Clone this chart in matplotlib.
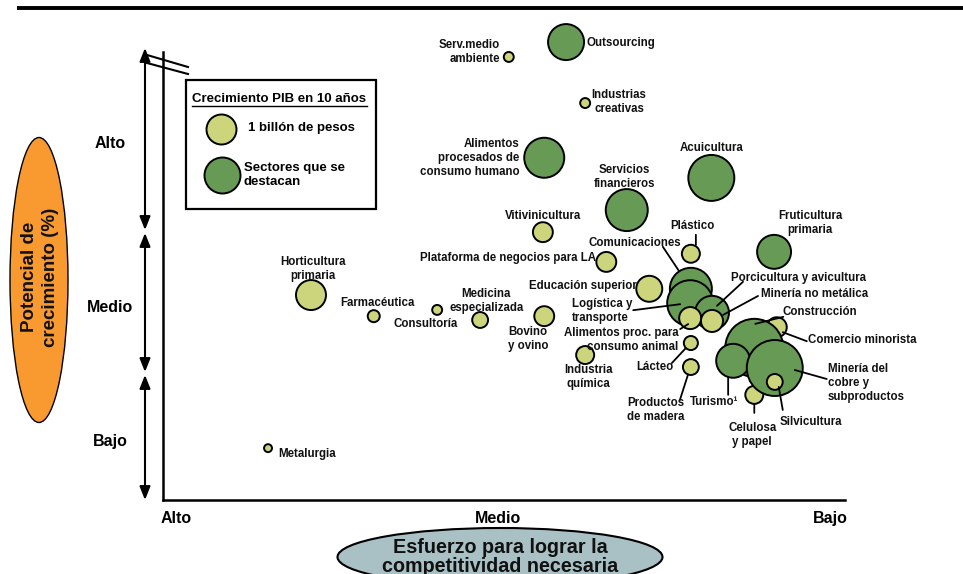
import matplotlib
matplotlib.use('Agg')
import matplotlib.pyplot as plt
from matplotlib.patches import Ellipse, Rectangle
from matplotlib.transforms import offset_copy

plt.rcParams['font.family'] = ['Liberation Sans', 'DejaVu Sans']

# ---------------- data ----------------
sectors = [
    "Metalurgia", "Serv.medio\nambiente", "Outsourcing", "Industrias\ncreativas",
    "Alimentos\nprocesados de\nconsumo humano", "Acuicultura", "Servicios\nfinancieros",
    "Vitivinicultura", "Plástico", "Fruticultura\nprimaria", "Plataforma de negocios para LA",
    "Horticultura\nprimaria", "Farmacéutica", "Consultoría", "Medicina\nespecializada",
    "Bovino\ny ovino", "Educación superior", "Industria\nquímica", "Comunicaciones",
    "Logística y\ntransporte", "Porcicultura y avicultura", "Alimentos proc. para\nconsumo animal",
    "Minería no metálica", "Lácteo", "Productos\nde madera", "Comercio minorista",
    "Celulosa\ny papel", "Construcción", "Turismo¹", "Minería del\ncobre y\nsubproductos",
    "Silvicultura",
]
# esfuerzo para lograr competitividad (0 = alto, 100 = bajo)
effort = [15.4, 50.7, 59.1, 61.9, 55.9, 80.4, 68.0, 55.7, 77.4, 89.6, 65.0,
          21.7, 30.9, 40.2, 46.5, 55.9, 71.3, 61.9, 77.4, 77.3, 80.5, 77.3,
          80.5, 77.4, 77.4, 90.0, 86.7, 86.7, 83.6, 89.7, 89.7]
# potencial de crecimiento (0 = bajo, 100 = alto)
potential = [10.8, 92.3, 95.4, 82.7, 71.3, 67.1, 60.4, 55.8, 51.3, 51.7, 49.6,
             42.7, 38.3, 39.6, 37.5, 38.3, 44.0, 30.2, 44.0, 41.0, 39.0, 37.9,
             37.3, 32.7, 27.7, 36.0, 21.9, 31.7, 29.0, 27.5, 24.6]
# crecimiento PIB en 10 años (billones de pesos)
pib_growth = [0.07, 0.11, 1.44, 0.11, 1.78, 2.35, 1.96, 0.44, 0.36, 1.28, 0.44,
              1.00, 0.16, 0.11, 0.28, 0.44, 0.75, 0.36, 1.96, 2.35, 1.28, 0.54,
              0.54, 0.22, 0.28, 0.44, 0.36, 3.74, 1.28, 3.48, 0.28]
highlighted = [False, False, True, False, True, True, True, False, False, True, False,
               False, False, False, False, False, False, False, True, True, True, False,
               False, False, False, False, False, True, True, True, False]

effort_levels = ["Alto", "Medio", "Bajo"]
effort_level_pos = [1.9, 49.1, 97.9]
potential_levels = ["Alto", "Medio", "Bajo"]
potential_level_pos = [74.6, 40.4, 12.5]

# ---------------- layout (pixel offsets from bubble centre; y down) ----------------
label_layout = {
    "Metalurgia": (10, 6, 'left', None),
    "Serv.medio\nambiente": (-9, -5, 'right', None),
    "Outsourcing": (20, 1, 'left', None),
    "Industrias\ncreativas": (34, -1, 'center', None),
    "Alimentos\nprocesados de\nconsumo humano": (-25, 0, 'right', None),
    "Acuicultura": (0, -30, 'center', None),
    "Servicios\nfinancieros": (-2, -33, 'center', None),
    "Vitivinicultura": (0, -16, 'center', None),
    "Plástico": (2, -28, 'center', ((5, -19), (5, -9))),
    "Fruticultura\nprimaria": (36, -29, 'center', None),
    "Plataforma de negocios para LA": (-10, -4, 'right', None),
    "Horticultura\nprimaria": (2, -26, 'center', None),
    "Farmacéutica": (4, -13, 'center', None),
    "Consultoría": (-12, 14, 'center', None),
    "Medicina\nespecializada": (6, -19, 'center', None),
    "Bovino\ny ovino": (-36, 23, 'left', None),
    "Educación superior": (-13, -3, 'right', None),
    "Industria\nquímica": (3, 22, 'center', None),
    "Comunicaciones": (-56, -46, 'center', ((-28, -42), (-12, -18))),
    "Logística y\ntransporte": (-118, 8, 'left', ((-57, 7), (-10, 1))),
    "Porcicultura y avicultura": (86, -35, 'center', ((31, -31), (5, -7))),
    "Alimentos proc. para\nconsumo animal": (-12, 22, 'right', ((-10, 11), (-2, 6))),
    "Minería no metálica": (103, -27, 'center', ((46, -25), (11, -6))),
    "Lácteo": (-36, 24, 'center', ((-19, 20), (-5, 5))),
    "Productos\nde madera": (-35, 43, 'center', ((-11, 33), (-3, 8))),
    "Comercio minorista": (85, 13, 'center', ((6, 5), (30, 14))),
    "Celulosa\ny papel": (-2, 40, 'center', ((0, 9), (0, 18))),
    "Construcción": (66, -36, 'center', ((1, -24), (29, -31))),
    "Turismo¹": (-19, 41, 'center', ((-5, 17), (-5, 34))),
    "Minería del\ncobre y\nsubproductos": (53, 15, 'left', ((20, 2), (52, 11))),
    "Silvicultura": (36, 40, 'center', ((4, 5), (8, 28))),
}

LIGHT = '#CDD57C'
DARK = '#679B55'
ORANGE = '#F99A30'
GREYBLUE = '#A9C1C5'
SIZE_PER_UNIT = 466.6  # marker area (pt^2) for 1 billón

W, H = 963, 574
fig = plt.figure(figsize=(W / 100, H / 100), dpi=100)

# main axes
left, right, top, bottom = 163, 845, 20, 500
ax = fig.add_axes([left / W, (H - bottom) / H, (right - left) / W, (bottom - top) / H])
ax.set_xlim(0, 100)
ax.set_ylim(0, 100)
ax.patch.set_alpha(0)
for s in ['top', 'right']:
    ax.spines[s].set_visible(False)
ax.spines['left'].set_linewidth(1.8)
ax.spines['bottom'].set_linewidth(1.8)
ax.spines['left'].set_bounds(0, (bottom - 52) / (bottom - top) * 100)
ax.set_xticks(effort_level_pos, effort_levels)
ax.set_yticks(potential_level_pos, potential_levels)
ax.tick_params(axis='both', length=0, labelsize=11.5)
ax.tick_params(axis='x', pad=8)
ax.tick_params(axis='y', pad=38)
for t in ax.get_xticklabels() + ax.get_yticklabels():
    t.set_fontweight('bold')
for t in ax.get_yticklabels():
    t.set_horizontalalignment('center')

colors = [DARK if h else LIGHT for h in highlighted]
sizes = [v * SIZE_PER_UNIT for v in pib_growth]
ax.scatter(effort, potential, s=sizes, c=colors, edgecolors='black',
           linewidths=1.4, zorder=3, clip_on=False)

for name, x, y in zip(sectors, effort, potential):
    dx, dy, ha, lead = label_layout[name]
    ax.annotate(name, xy=(x, y), xytext=(dx, -dy), textcoords='offset pixels',
                ha=ha, va='center', multialignment=ha, fontsize=8.3,
                fontweight='bold', color='#111111', zorder=6, annotation_clip=False)
    if lead:
        (x1, y1), (x2, y2) = lead
        tr = offset_copy(ax.transData, fig=fig, x=x2, y=-y2, units='dots')
        ax.annotate('', xy=(x, y), xycoords=tr, xytext=(x1 - x2, -(y1 - y2)),
                    textcoords='offset pixels',
                    arrowprops=dict(arrowstyle='-', lw=1.3, color='black',
                                    shrinkA=0, shrinkB=0),
                    zorder=5, annotation_clip=False)

# overlay axes for decorations (pixel coordinates)
ov = fig.add_axes([0, 0, 1, 1], zorder=2)
ov.set_xlim(0, W)
ov.set_ylim(H, 0)
ov.axis('off')
ov.patch.set_alpha(0)

# top rule
ov.plot([17, W], [7.5, 7.5], color='black', lw=2.8, solid_capstyle='butt')

# potential arrows
arrow_kw = dict(arrowstyle='<|-|>,head_length=0.8,head_width=0.32', color='black',
                lw=1.5, shrinkA=0, shrinkB=0, mutation_scale=10)
for y0, y1 in [(48, 230), (233, 372), (375, 500)]:
    ov.annotate('', xy=(145, y0), xytext=(145, y1), arrowprops=arrow_kw)

# break marks
ov.plot([147, 188], [55, 67], color='black', lw=1.5)
ov.plot([147, 188], [63, 74], color='black', lw=1.5)

# orange ellipse
ov.add_patch(Ellipse((39, 280), 58, 285, facecolor=ORANGE, edgecolor='black', lw=1.0))
ov.text(40, 277, "Potencial de\ncrecimiento (%)", rotation=90, ha='center', va='center',
        fontsize=13.5, fontweight='bold', linespacing=1.25, color='#111111')

# bottom ellipse
ov.add_patch(Ellipse((500, 557), 325, 58, facecolor=GREYBLUE, edgecolor='black', lw=1.5))
ov.text(500, 557, "Esfuerzo para lograr la\ncompetitividad necesaria", ha='center',
        va='center', fontsize=14.2, fontweight='bold', linespacing=1.02, color='#111111')

# legend box
ov.add_patch(Rectangle((186, 80), 190, 129, facecolor='white', edgecolor='black', lw=1.6))
ov.text(279, 99, "Crecimiento PIB en 10 años", ha='center', va='center',
        fontsize=9.5, fontweight='bold')
ov.plot([192, 367], [106, 106], color='black', lw=1.0)
ov.scatter([221], [129], s=1.0 * SIZE_PER_UNIT, c=LIGHT, edgecolors='black', linewidths=1.4)
ov.scatter([222], [175], s=1.44 * SIZE_PER_UNIT, c=DARK, edgecolors='black', linewidths=1.4)
ov.text(248, 128, "1 billón de pesos", ha='left', va='center', fontsize=9.5, fontweight='bold')
ov.text(244, 175, "Sectores que se\ndestacan", ha='left', va='center', fontsize=9.5,
        fontweight='bold', linespacing=1.25)

fig.savefig('out.png', dpi=100)
